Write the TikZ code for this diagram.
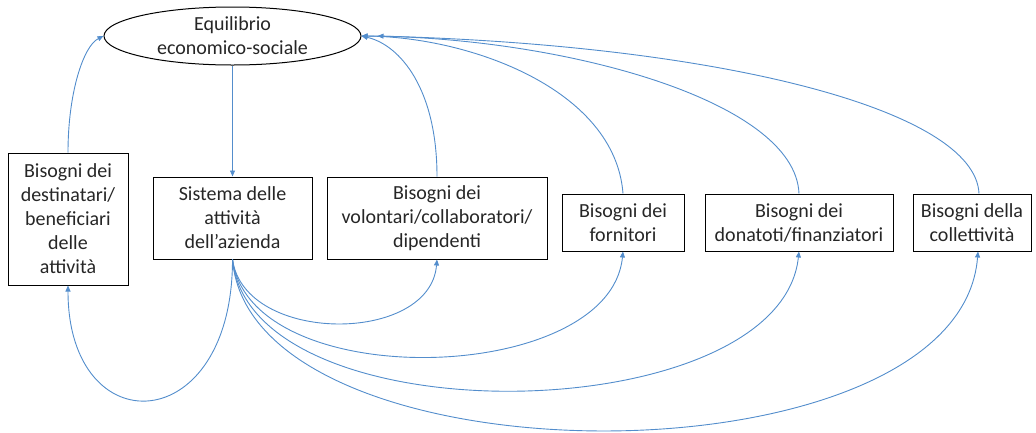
\documentclass[tikz,border=0pt]{standalone}
\usepackage{fontspec}
\setmainfont{Carlito}
\usetikzlibrary{arrows.meta,shapes.geometric}
\definecolor{linkblue}{RGB}{83,141,204}
\definecolor{inktext}{RGB}{38,38,38}

\begin{document}
\begin{tikzpicture}[x=1pt,y=-1pt,
  every node/.style={font=\fontsize{20}{24}\selectfont, text=inktext},
  box/.style={draw=black, line width=1pt, inner sep=0pt, align=center},
  link/.style={draw=linkblue, line width=0.9pt, -{Triangle[length=6pt,width=5pt]}}]

\useasboundingbox (0,0) rectangle (1036,432);

% central goal
\node[draw=black, line width=1pt, ellipse, inner sep=0pt,
      minimum width=257pt, minimum height=58pt,
      label={[align=center]center:Equilibrio\\economico-sociale}] (ell) at (232.5,36) {};

% stakeholder boxes
\node[box, minimum width=120pt, minimum height=132pt] (dest) at (68,219)
  {Bisogni dei\\destinatari/\\beneficiari\\delle\\attività};
\node[box, minimum width=159pt, minimum height=82pt] (sist) at (232.5,218)
  {Sistema delle\\attività\\dell’azienda};
\node[box, minimum width=220pt, minimum height=82pt] (vol) at (437,218)
  {Bisogni dei\\volontari/collaboratori/\\dipendenti};
\node[box, minimum width=122pt, minimum height=57pt] (forn) at (623,222.5)
  {Bisogni dei\\fornitori};
\node[box, minimum width=188pt, minimum height=57pt] (don) at (799,222.5)
  {Bisogni dei\\donatoti/finanziatori};
\node[box, minimum width=118pt, minimum height=57pt] (coll) at (972,222.5)
  {Bisogni della\\collettività};

% goal to activity system
\draw[link] (ell.south) -- (sist.north);

% needs feeding back to the goal
\draw[link] (dest.north) .. controls +(0,-60) and +(-20,10) .. (ell.west);
\draw[link] (vol.north) .. controls +(0,-87) and +(39,9) .. (ell.east);
\draw[link] (forn.north) .. controls +(-8,-104) and +(109,1) .. (ell.east);
\draw[link] (don.north) .. controls +(-4,-94) and +(198,1) .. (ell.east);
\draw[link] ([xshift=7pt]coll.north) .. controls +(-4,-84) and +(342,9) .. ([xshift=16pt]ell.east);

% activity system serving each group
\draw[link] (sist.south) .. controls +(0,180) and +(0,160) .. (dest.south);
\draw[link] (sist.south) .. controls +(12,85) and +(-7,85) .. (vol.south);
\draw[link] (sist.south) .. controls +(18,136) and +(-13,134) .. (forn.south);
\draw[link] (sist.south) .. controls +(18,181) and +(-19,179) .. (don.south);
\draw[link] (sist.south) .. controls +(18,229) and +(-18,237) .. ([xshift=6pt]coll.south);

\end{tikzpicture}
\end{document}
